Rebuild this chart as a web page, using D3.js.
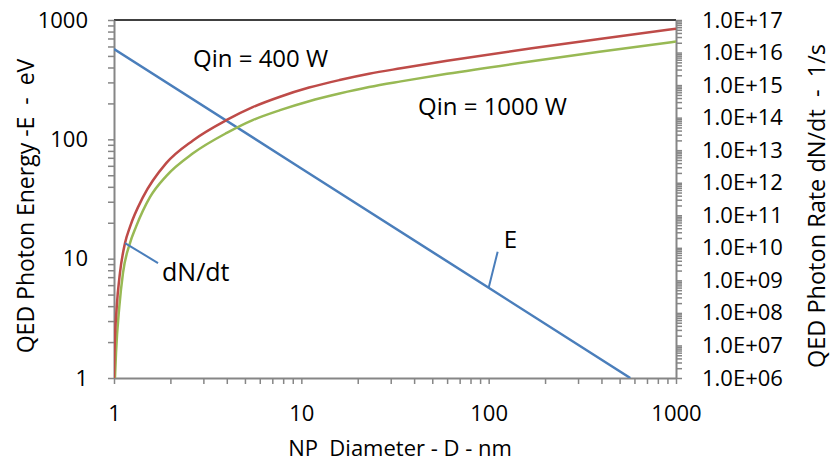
<!DOCTYPE html>
<html>
<head>
<meta charset="utf-8">
<script src="https://cdn.jsdelivr.net/npm/d3@7"></script>
<style>
  body { margin: 0; background: #fff; }
  text { font-family: "Open Sans", sans-serif; fill: #000; }
</style>
</head>
<body>
<div id="chart"></div>
<script>
// E line (left axis)
const diameterE = [1, 10, 100, 570];
const energyE = [570, 57, 5.7, 1];

// dN/dt, Qin = 400 W (right axis)
const diameter400 = [1, 1.006, 1.034, 1.076, 1.145, 1.217, 1.428, 1.9, 2.64, 4, 5.5, 7.7, 11, 16, 23, 34, 60, 170, 390, 1000];
const rate400 = [1e6, 5.9e6, 1.5e8, 1.7e9, 1.4e10, 4.4e10, 3.6e11, 4.0e12, 2.0e13, 8.5e13, 2.1e14, 4.4e14, 8.4e14, 1.43e15, 2.23e15, 3.28e15, 5.56e15, 1.36e16, 2.62e16, 5.43e16];

// dN/dt, Qin = 1000 W (right axis)
const diameter1000 = [1.012, 1.025, 1.067, 1.117, 1.217, 1.31, 1.556, 1.9, 2.64, 4, 5.5, 7.7, 11, 16, 23, 34, 60, 170, 390, 1000];
const rate1000 = [1e6, 5.9e6, 1.5e8, 1.7e9, 1.4e10, 4.4e10, 3.6e11, 1.6e12, 8.0e12, 3.4e13, 8.4e13, 1.7e14, 3.2e14, 5.5e14, 8.7e14, 1.3e15, 2.22e15, 5.4e15, 1.05e16, 2.17e16];

const xMajor = [1, 10, 100, 1000];
const leftMajor = [1, 10, 100, 1000];
const rightMajor = [1e6, 1e7, 1e8, 1e9, 1e10, 1e11, 1e12, 1e13, 1e14, 1e15, 1e16, 1e17];

const W = 832, H = 470;
const margin = { top: 20, right: 156, bottom: 92, left: 114 };
const width = W - margin.left - margin.right,
      height = H - margin.top - margin.bottom;

const svg = d3.select("#chart").append("svg")
  .attr("width", W)
  .attr("height", H);

const g = svg.append("g")
  .attr("transform", `translate(${margin.left},${margin.top})`);

const x = d3.scaleLog().domain([1, 1000]).range([0, width]);
const yL = d3.scaleLog().domain([1, 1000]).range([height, 0]);
const yR = d3.scaleLog().domain([1e6, 1e17]).range([height, 0]);

const axisGray = "#868686";

g.append("clipPath").attr("id", "clip")
  .append("rect").attr("width", width).attr("height", height);

// top border
g.append("line")
  .attr("x1", 0).attr("x2", width).attr("y1", 0).attr("y2", 0)
  .attr("stroke", "#000").attr("stroke-width", 1.5);

function styleAxis(sel) {
  sel.select(".domain").attr("stroke", axisGray).attr("stroke-width", 2);
  sel.selectAll(".tick line").attr("stroke", axisGray).attr("stroke-width", 1.5);
  sel.selectAll(".tick text").style("font-size", "22px").attr("fill", "#000");
}

// x axis
g.append("g")
  .attr("transform", `translate(0,${height})`)
  .call(d3.axisBottom(x)
    .tickValues(x.ticks())
    .tickSize(6).tickSizeOuter(0).tickPadding(21)
    .tickFormat(d => xMajor.includes(d) ? d : ""))
  .call(styleAxis);

// left axis
g.append("g")
  .call(d3.axisLeft(yL)
    .tickValues(yL.ticks())
    .tickSize(6).tickSizeOuter(0).tickPadding(20)
    .tickFormat(d => leftMajor.includes(d) ? d : ""))
  .call(styleAxis);

// right axis
g.append("g")
  .attr("transform", `translate(${width},0)`)
  .call(d3.axisRight(yR)
    .tickValues(yR.ticks(20))
    .tickSize(6).tickSizeOuter(0).tickPadding(20)
    .tickFormat(d => {
      const e = Math.round(Math.log10(d));
      return rightMajor.some(m => Math.abs(m - d) / m < 1e-6) ? "1.0E+" + String(e).padStart(2, "0") : "";
    }))
  .call(styleAxis);

const plot = g.append("g").attr("clip-path", "url(#clip)");

const lineE = d3.line()
  .x(d => x(d[0]))
  .y(d => yL(d[1]));

const lineR = d3.line()
  .x(d => x(d[0]))
  .y(d => yR(d[1]))
  .curve(d3.curveMonotoneX);

plot.append("path")
  .datum(d3.zip(diameterE, energyE))
  .attr("fill", "none").attr("stroke", "#4a7ebb").attr("stroke-width", 2.5)
  .attr("d", lineE);

plot.append("path")
  .datum(d3.zip(diameter1000, rate1000))
  .attr("fill", "none").attr("stroke", "#98b954").attr("stroke-width", 2.5)
  .attr("d", lineR);

plot.append("path")
  .datum(d3.zip(diameter400, rate400))
  .attr("fill", "none").attr("stroke", "#be4b48").attr("stroke-width", 2.5)
  .attr("d", lineR);

// annotations
g.append("text").attr("x", 79).attr("y", 47)
  .style("font-size", "24px").text("Qin = 400 W");
g.append("text").attr("x", 304).attr("y", 95)
  .style("font-size", "24px").text("Qin = 1000 W");

// dN/dt pointer
const pN = [x(1.145), yR(1.4e10)];
g.append("line")
  .attr("x1", pN[0]).attr("y1", pN[1])
  .attr("x2", pN[0] + 33).attr("y2", pN[1] + 20)
  .attr("stroke", "#4a7ebb").attr("stroke-width", 2);
g.append("text").attr("x", pN[0] + 37).attr("y", pN[1] + 38)
  .style("font-size", "25px").text("dN/dt");

// E pointer
const pE = [x(100), yL(5.7)];
g.append("line")
  .attr("x1", pE[0]).attr("y1", pE[1])
  .attr("x2", pE[0] + 9).attr("y2", pE[1] - 36)
  .attr("stroke", "#4a7ebb").attr("stroke-width", 2);
g.append("text").attr("x", pE[0] + 15).attr("y", pE[1] - 40)
  .style("font-size", "24px").text("E");

// axis titles
svg.append("text")
  .attr("x", margin.left + width / 2 + 5).attr("y", 456)
  .attr("text-anchor", "middle")
  .style("font-size", "22px")
  .style("white-space", "pre")
  .text("NP  Diameter - D - nm");

svg.append("text")
  .attr("transform", `translate(34,206) rotate(-90)`)
  .attr("text-anchor", "middle")
  .style("font-size", "23px")
  .style("white-space", "pre")
  .text("QED Photon Energy -E  -  eV");

svg.append("text")
  .attr("transform", `translate(825,206) rotate(-90)`)
  .attr("text-anchor", "middle")
  .style("font-size", "23.5px")
  .style("white-space", "pre")
  .text("QED Photon Rate dN/dt  -  1/s");
</script>
</body>
</html>
